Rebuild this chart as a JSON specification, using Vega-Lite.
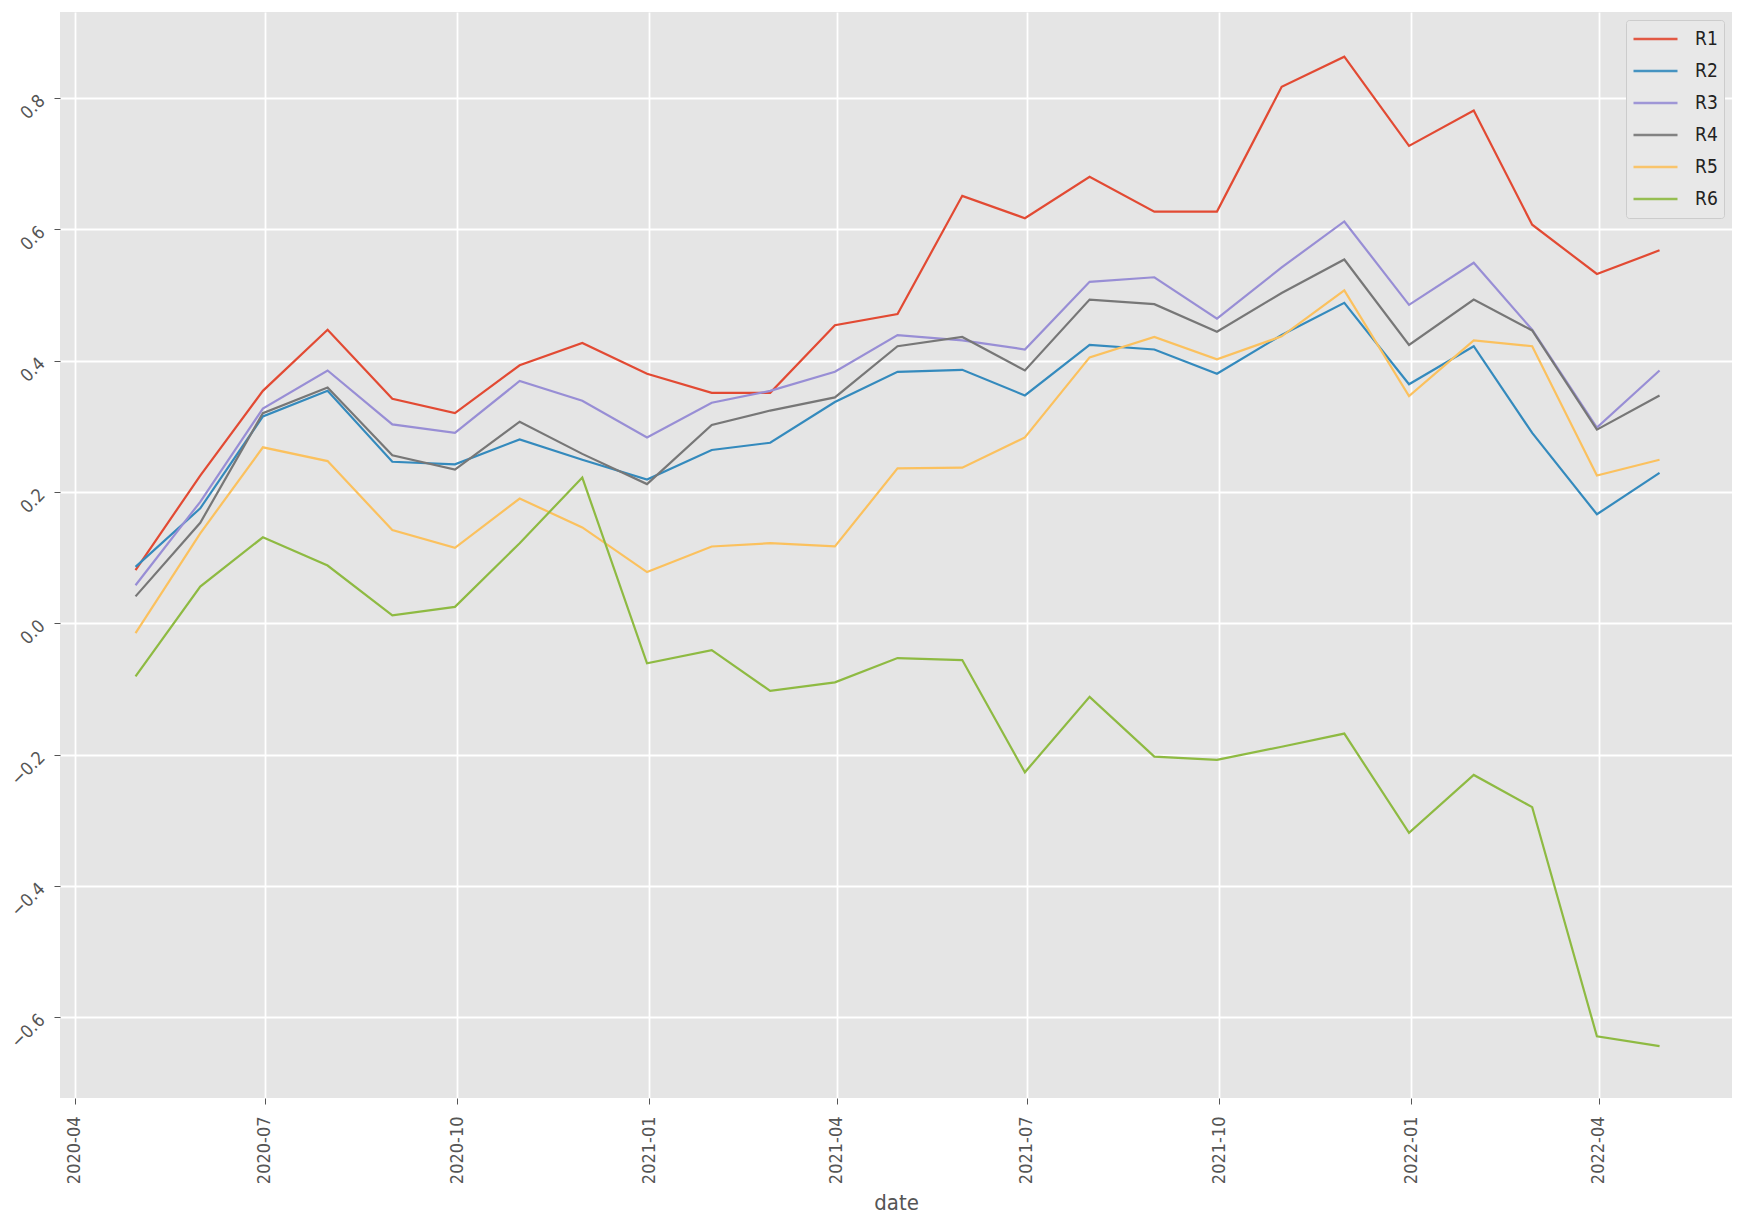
{
  "$schema": "https://vega.github.io/schema/vega-lite/v6.json",
  "width": 1672,
  "height": 1086,
  "autosize": {"type": "none"},
  "padding": {"left": 60, "top": 12, "right": 12, "bottom": 126},
  "background": "white",
  "data": {
    "values": [
      {"date": "2020-04-30", "R1": 0.081, "R2": 0.086, "R3": 0.058, "R4": 0.041, "R5": -0.015, "R6": -0.081},
      {"date": "2020-05-31", "R1": 0.225, "R2": 0.175, "R3": 0.185, "R4": 0.153, "R5": 0.137, "R6": 0.056},
      {"date": "2020-06-30", "R1": 0.354, "R2": 0.315, "R3": 0.327, "R4": 0.320, "R5": 0.268, "R6": 0.131},
      {"date": "2020-07-31", "R1": 0.447, "R2": 0.354, "R3": 0.385, "R4": 0.359, "R5": 0.247, "R6": 0.088},
      {"date": "2020-08-31", "R1": 0.342, "R2": 0.246, "R3": 0.303, "R4": 0.256, "R5": 0.142, "R6": 0.012},
      {"date": "2020-09-30", "R1": 0.320, "R2": 0.242, "R3": 0.290, "R4": 0.234, "R5": 0.115, "R6": 0.025},
      {"date": "2020-10-31", "R1": 0.393, "R2": 0.280, "R3": 0.369, "R4": 0.307, "R5": 0.190, "R6": 0.122},
      {"date": "2020-11-30", "R1": 0.427, "R2": 0.249, "R3": 0.339, "R4": 0.258, "R5": 0.146, "R6": 0.222},
      {"date": "2020-12-31", "R1": 0.380, "R2": 0.219, "R3": 0.283, "R4": 0.212, "R5": 0.078, "R6": -0.061},
      {"date": "2021-01-31", "R1": 0.351, "R2": 0.264, "R3": 0.336, "R4": 0.302, "R5": 0.117, "R6": -0.041},
      {"date": "2021-02-28", "R1": 0.351, "R2": 0.275, "R3": 0.354, "R4": 0.324, "R5": 0.122, "R6": -0.103},
      {"date": "2021-03-31", "R1": 0.454, "R2": 0.337, "R3": 0.383, "R4": 0.344, "R5": 0.117, "R6": -0.090},
      {"date": "2021-04-30", "R1": 0.471, "R2": 0.383, "R3": 0.439, "R4": 0.422, "R5": 0.236, "R6": -0.053},
      {"date": "2021-05-31", "R1": 0.651, "R2": 0.386, "R3": 0.431, "R4": 0.436, "R5": 0.237, "R6": -0.056},
      {"date": "2021-06-30", "R1": 0.617, "R2": 0.347, "R3": 0.417, "R4": 0.385, "R5": 0.283, "R6": -0.227},
      {"date": "2021-07-31", "R1": 0.680, "R2": 0.424, "R3": 0.520, "R4": 0.493, "R5": 0.405, "R6": -0.112},
      {"date": "2021-08-31", "R1": 0.627, "R2": 0.417, "R3": 0.527, "R4": 0.486, "R5": 0.436, "R6": -0.203},
      {"date": "2021-09-30", "R1": 0.627, "R2": 0.380, "R3": 0.464, "R4": 0.444, "R5": 0.402, "R6": -0.208},
      {"date": "2021-10-31", "R1": 0.817, "R2": 0.439, "R3": 0.542, "R4": 0.503, "R5": 0.437, "R6": -0.188},
      {"date": "2021-11-30", "R1": 0.863, "R2": 0.488, "R3": 0.612, "R4": 0.554, "R5": 0.507, "R6": -0.168},
      {"date": "2021-12-31", "R1": 0.727, "R2": 0.364, "R3": 0.485, "R4": 0.424, "R5": 0.346, "R6": -0.319},
      {"date": "2022-01-31", "R1": 0.781, "R2": 0.422, "R3": 0.549, "R4": 0.493, "R5": 0.431, "R6": -0.231},
      {"date": "2022-02-28", "R1": 0.607, "R2": 0.290, "R3": 0.447, "R4": 0.446, "R5": 0.422, "R6": -0.280},
      {"date": "2022-03-31", "R1": 0.532, "R2": 0.166, "R3": 0.298, "R4": 0.295, "R5": 0.225, "R6": -0.629},
      {"date": "2022-04-30", "R1": 0.568, "R2": 0.229, "R3": 0.385, "R4": 0.347, "R5": 0.249, "R6": -0.644}
    ]
  },
  "transform": [
    {"fold": ["R1", "R2", "R3", "R4", "R5", "R6"], "as": ["series", "value"]}
  ],
  "mark": {"type": "line", "strokeWidth": 2.2, "clip": true},
  "encoding": {
    "x": {
      "field": "date",
      "type": "temporal",
      "title": "date",
      "scale": {
        "type": "utc",
        "domain": [
          {"utc": true, "year": 2020, "month": 3, "date": 24, "hours": 19, "minutes": 40},
          {"utc": true, "year": 2022, "month": 6, "date": 3, "hours": 17}
        ]
      },
      "axis": {
        "values": [
          {"utc": true, "year": 2020, "month": 4, "date": 1},
          {"utc": true, "year": 2020, "month": 7, "date": 1},
          {"utc": true, "year": 2020, "month": 10, "date": 1},
          {"utc": true, "year": 2021, "month": 1, "date": 1},
          {"utc": true, "year": 2021, "month": 4, "date": 1},
          {"utc": true, "year": 2021, "month": 7, "date": 1},
          {"utc": true, "year": 2021, "month": 10, "date": 1},
          {"utc": true, "year": 2022, "month": 1, "date": 1},
          {"utc": true, "year": 2022, "month": 4, "date": 1}
        ],
        "labelExpr": "utcFormat(datum.value, '%Y-%m')",
        "labelAngle": -90,
        "labelAlign": "right",
        "labelBaseline": "middle",
        "labelPadding": 12,
        "labelFontSize": 18,
        "titlePadding": 9
      }
    },
    "y": {
      "field": "value",
      "type": "quantitative",
      "title": null,
      "scale": {"domain": [-0.723, 0.931], "nice": false, "zero": false},
      "axis": {
        "values": [-0.6, -0.4, -0.2, 0, 0.2, 0.4, 0.6, 0.8],
        "format": ".1f",
        "labelAngle": -45,
        "labelAlign": "right",
        "labelBaseline": "middle",
        "labelPadding": 12,
        "labelFontSize": 18
      }
    },
    "color": {
      "field": "series",
      "type": "nominal",
      "scale": {
        "domain": ["R1", "R2", "R3", "R4", "R5", "R6"],
        "range": ["#E24A33", "#348ABD", "#988ED5", "#777777", "#FBC15E", "#8EBA42"]
      },
      "legend": {
        "title": null,
        "orient": "top-right",
        "offset": 8,
        "symbolType": "stroke",
        "symbolSize": 1936,
        "symbolStrokeWidth": 2.5,
        "symbolOpacity": 0.9,
        "labelFontSize": 19,
        "labelFont": "Liberation Sans Narrow, DejaVu Sans Condensed, sans-serif",
        "labelColor": "#222222",
        "labelOffset": 16,
        "clipHeight": 26,
        "rowPadding": 6,
        "padding": 6,
        "fillColor": "#e8e8e8",
        "strokeColor": "#cccccc",
        "cornerRadius": 3
      }
    }
  },
  "config": {
    "view": {"fill": "#E5E5E5", "stroke": null},
    "axis": {
      "domain": false,
      "grid": true,
      "gridColor": "#FFFFFF",
      "gridWidth": 1.8,
      "gridOpacity": 1,
      "ticks": true,
      "tickColor": "#555555",
      "tickSize": 6,
      "tickWidth": 1,
      "labelColor": "#555555",
      "labelFont": "Liberation Sans Narrow, DejaVu Sans Condensed, sans-serif",
      "labelFontSize": 18,
      "titleColor": "#555555",
      "titleFont": "Liberation Sans Narrow, DejaVu Sans Condensed, sans-serif",
      "titleFontSize": 22,
      "titleFontWeight": "normal",
      "labelOverlap": false
    }
  }
}
